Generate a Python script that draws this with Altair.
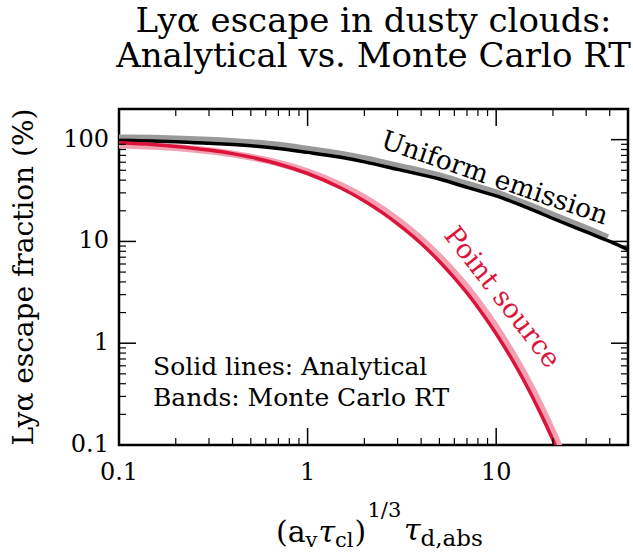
import altair as alt
import pandas as pd

# ---------------- data ----------------
x_uni = [0.1, 0.15, 0.2, 0.3, 0.5, 0.7, 1, 1.5, 2, 3, 5, 7, 10, 15, 20, 30, 40, 50]
y_uni_an = [98, 97, 95.5, 92, 87, 82, 75, 67, 60.5, 51, 41, 34, 28, 21, 16.8, 12.4, 10, 8.3]
x_uni_mc = [0.1, 0.15, 0.2, 0.3, 0.5, 0.7, 1, 1.5, 2, 3, 5, 7, 10, 15, 20, 30, 39]
y_uni_mc = [104, 103, 101.5, 98.5, 93, 88, 80.5, 72, 65, 55, 44, 36.5, 30, 22.5, 18.1, 13.4, 10.9]

x_pt = [0.1, 0.15, 0.2, 0.3, 0.4, 0.5, 0.7, 1, 1.5, 2, 2.5, 3, 4, 5, 6, 7, 8.5, 10,
        12, 14, 17, 20, 23]
y_pt_an = [93.0, 89.4, 85.8, 79.0, 72.9, 67.3, 57.7, 46.5, 33.5, 25.0, 19.1, 14.9, 9.55,
           6.36, 4.39, 3.12, 1.93, 1.24, 0.718, 0.433, 0.214, 0.112, 0.061]
y_pt_mc = [88.8, 86.3, 83.7, 77.8, 72.5, 67.3, 58.9, 48.4, 35.5, 26.8, 20.6, 16.2, 10.5,
           7.06, 4.92, 3.53, 2.2, 1.43, 0.833, 0.507, 0.253, 0.133, 0.073]

x_major = [1, 10]
x_minor = [0.2, 0.3, 0.4, 0.5, 0.6, 0.7, 0.8, 0.9, 2, 3, 4, 5, 6, 7, 8, 9, 20, 30, 40]
y_major = [1, 10, 100]
y_minor = [0.2, 0.3, 0.4, 0.5, 0.6, 0.7, 0.8, 0.9, 2, 3, 4, 5, 6, 7, 8, 9,
           20, 30, 40, 50, 60, 70, 80, 90]
x_tick_vals = [0.1, 1, 10]
x_tick_labels = ["0.1", "1", "10"]
y_tick_vals = [0.1, 1, 10, 100]
y_tick_labels = ["0.1", "1", "10", "100"]

title_lines = ["Ly\u03b1 escape in dusty clouds:", "Analytical vs. Monte Carlo RT"]
y_title = "Ly\u03b1 escape fraction (%)"
note_lines = ["Solid lines: Analytical", "Bands: Monte Carlo RT"]

# ---------------- layout ----------------
W, H = 509, 336
F = "DejaVu Serif"
RED = "#DC143C"
PINK = "#F1A1B1"
GRAY = "#999999"

xs = alt.Scale(type="log", domain=[0.1, 50], nice=False)
ys = alt.Scale(type="log", domain=[0.1, 200], nice=False)


def X(f="x"):
    return alt.X(f"{f}:Q", scale=xs, axis=None)


def Y(f="y"):
    return alt.Y(f"{f}:Q", scale=ys, axis=None)


def line(xv, yv, color, sw):
    df = pd.DataFrame({"x": xv, "y": yv})
    return alt.Chart(df).mark_line(color=color, strokeWidth=sw, clip=True,
                                   interpolate="monotone", strokeCap="butt").encode(x=X(), y=Y())


layers = [
    line(x_uni_mc, y_uni_mc, GRAY, 7),
    line(x_pt, y_pt_mc, PINK, 7),
    line(x_uni, y_uni_an, "black", 3.5),
    line(x_pt, y_pt_an, RED, 3.5),
]

# ticks (inward, all four sides)
for vals, ln, sw in [(x_major, 17, 1.5), (x_minor, 7, 1.2)]:
    d = pd.DataFrame({"v": vals})
    layers.append(alt.Chart(d).mark_rule(color="black", strokeWidth=sw).encode(
        x=X("v"), y=alt.value(H), y2=alt.value(H - ln)))
    layers.append(alt.Chart(d).mark_rule(color="black", strokeWidth=sw).encode(
        x=X("v"), y=alt.value(0), y2=alt.value(ln)))
for vals, ln, sw in [(y_major, 17, 1.5), (y_minor, 7, 1.2)]:
    d = pd.DataFrame({"v": vals})
    layers.append(alt.Chart(d).mark_rule(color="black", strokeWidth=sw).encode(
        y=Y("v"), x=alt.value(0), x2=alt.value(ln)))
    layers.append(alt.Chart(d).mark_rule(color="black", strokeWidth=sw).encode(
        y=Y("v"), x=alt.value(W), x2=alt.value(W - ln)))

# tick labels
layers.append(alt.Chart(pd.DataFrame({"v": x_tick_vals, "t": x_tick_labels})).mark_text(
    font=F, fontSize=24, align="center", baseline="alphabetic", color="black").encode(
    x=X("v"), y=alt.value(H + 35), text="t:N"))
layers.append(alt.Chart(pd.DataFrame({"v": y_tick_vals, "t": y_tick_labels})).mark_text(
    font=F, fontSize=24, align="right", baseline="middle", color="black").encode(
    y=Y("v"), x=alt.value(-10), text="t:N"))


def txt(s, x, y, size, **kw):
    return alt.Chart(pd.DataFrame({"t": [s]})).mark_text(
        font=F, fontSize=size, baseline="alphabetic", color="black", **kw).encode(
        x=alt.value(x), y=alt.value(y), text="t:N")


# title
layers.append(txt(title_lines[0], W / 2, -77, 34, align="center"))
layers.append(txt(title_lines[1], W / 2, -42, 34, align="center"))

# y title
layers.append(txt(y_title, -86, H / 2, 28, align="center", angle=270))

# x title: (a_v tau_cl)^{1/3} tau_{d,abs}
bx = H + 97
layers += [
    txt("(", 157, bx, 30, align="left"),
    txt("a", 168.7, bx, 30, align="left"),
    txt("v", 186.6, bx + 5, 21, align="left"),
    txt("\u03c4", 199.6, bx, 30, align="left", fontStyle="italic"),
    txt("cl", 216.1, bx + 5, 21, align="left"),
    txt(")", 235.5, bx, 30, align="left"),
    txt("1/3", 248.5, bx - 25, 21, align="left"),
    txt("\u03c4", 285, bx - 2, 30, align="left", fontStyle="italic"),
    txt("d,abs", 301.5, bx + 4, 23, align="left"),
]

# notes
layers.append(txt(note_lines[0], 34, 266, 25, align="left"))
layers.append(txt(note_lines[1], 34, 297, 25, align="left"))

# curve labels (positioned in data coordinates)
layers.append(alt.Chart(pd.DataFrame({"x": [9.8], "y": [41.5], "t": ["Uniform emission"]})).mark_text(
    font=F, fontSize=26.5, angle=19, align="center", baseline="middle", color="black").encode(
    x=X(), y=Y(), text="t:N"))
layers.append(alt.Chart(pd.DataFrame({"x": [10.7], "y": [2.8], "t": ["Point source"]})).mark_text(
    font=F, fontSize=27, angle=52, align="center", baseline="middle", color=RED).encode(
    x=X(), y=Y(), text="t:N"))

chart = alt.layer(*layers).properties(
    width=W, height=H,
    autosize=alt.AutoSizeParams(type="none"),
    padding={"left": 119, "top": 109, "right": 5, "bottom": 107},
    background="white",
).configure_view(stroke="black", strokeWidth=2.5)

chart.save("out.html", embed_options={"renderer": "svg", "actions": False})
